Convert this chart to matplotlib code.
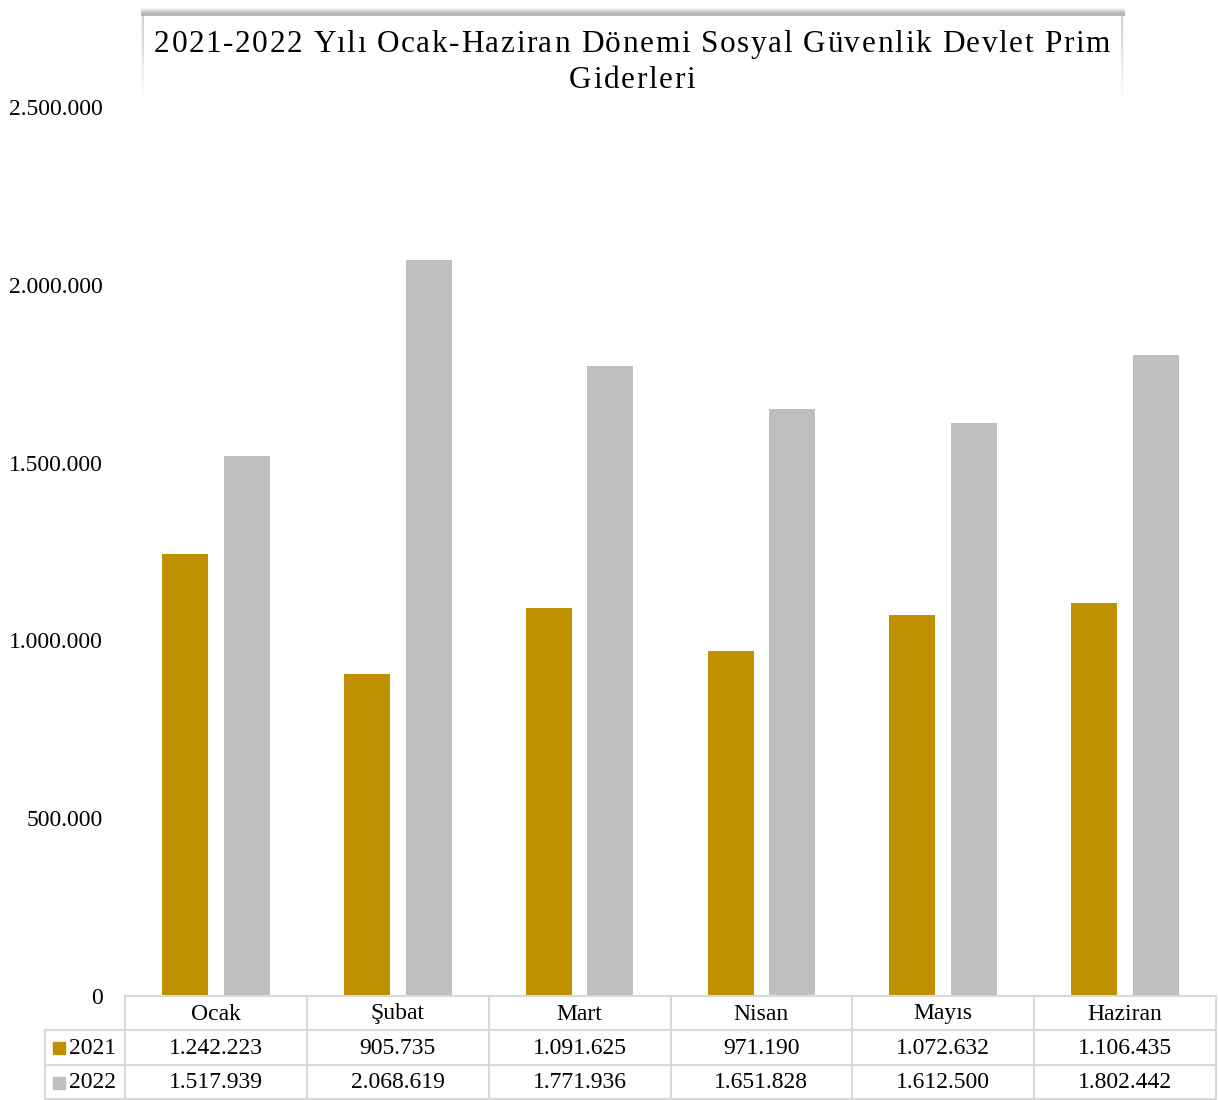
import matplotlib
matplotlib.use("Agg")
import matplotlib.pyplot as plt
from matplotlib.lines import Line2D
from matplotlib.patches import Rectangle
from matplotlib import transforms
from matplotlib.font_manager import FontProperties
import numpy as np

months = ["Ocak", "Şubat", "Mart", "Nisan", "Mayıs", "Haziran"]
series_names = ["2021", "2022"]
values_2021 = [1242223, 905735, 1091625, 971190, 1072632, 1106435]
values_2022 = [1517939, 2068619, 1771936, 1651828, 1612500, 1802442]
yticks = [0, 500000, 1000000, 1500000, 2000000, 2500000]
title_lines = ["2021-2022 Yılı Ocak-Haziran Dönemi Sosyal Güvenlik Devlet Prim", "Giderleri"]

colors = ["#BF9000", "#BFBFBF"]
grid_c = "#D9D9D9"

plt.rcParams['font.family'] = ['Liberation Serif', 'DejaVu Serif']

W, H = 1218, 1100
fig = plt.figure(figsize=(W / 100, H / 100), dpi=100)

def fy(ypx):
    return 1 - ypx / H

def fx(xpx):
    return xpx / W

ax = fig.add_axes([fx(125), fy(996), fx(1216) - fx(125), fy(107) - fy(996)])
x = np.arange(len(months)) + 0.5
bw = 0.253
off = 0.17
ax.bar(x - off, values_2021, bw, color=colors[0], zorder=2)
ax.bar(x + off, values_2022, bw, color=colors[1], zorder=2)
ax.set_xlim(0, len(months))
ax.set_ylim(0, 2500000)
ax.set_yticks(yticks)
ax.set_yticklabels([f"{v:,}".replace(",", ".") for v in yticks], fontsize=17)
ax.tick_params(axis='y', length=0, pad=16)
ax.tick_params(axis='x', length=0, labelbottom=False)
for s in ax.spines.values():
    s.set_visible(False)

# data table
tr = transforms.blended_transform_factory(ax.transData, fig.transFigure)
rows_y = [996, 1030, 1065, 1099]
fig.add_artist(Line2D([0, len(months)], [fy(996)] * 2, transform=tr, color=grid_c, lw=1.5))
for yy in rows_y[1:]:
    fig.add_artist(Line2D([fx(45), fx(1216)], [fy(yy)] * 2, transform=fig.transFigure, color=grid_c, lw=1.5))
for i in range(len(months) + 1):
    fig.add_artist(Line2D([i, i], [fy(996), fy(1100)], transform=tr, color=grid_c, lw=1.5))
fig.add_artist(Line2D([fx(45), fx(45)], [fy(1030), fy(1100)], transform=fig.transFigure, color=grid_c, lw=1.5))

fs = 17
for i, m in enumerate(months):
    fig.text(x[i], fy(1014), m, transform=tr, ha='center', va='center', fontsize=fs)
    fig.text(x[i], fy(1048), f"{values_2021[i]:,}".replace(",", "."), transform=tr,
             ha='center', va='center', fontsize=fs)
    fig.text(x[i], fy(1083), f"{values_2022[i]:,}".replace(",", "."), transform=tr,
             ha='center', va='center', fontsize=fs)

for j, (name, c) in enumerate(zip(series_names, colors)):
    yc = 1048 if j == 0 else 1083
    fig.add_artist(Rectangle((fx(53), fy(yc + 6)), fx(12), fy(0) - fy(12),
                             transform=fig.transFigure, color=c))
    fig.text(fx(69), fy(yc), name, ha='left', va='center', fontsize=fs)

# title box with shadow
shades = [(8, 0.08), (9, 0.15), (10, 0.25), (11, 0.35), (12, 0.42), (13, 0.48), (14, 0.5), (15, 0.45)]
for yy, a in shades:
    fig.add_artist(Rectangle((fx(141), fy(yy + 1)), fx(984), fy(yy) - fy(yy + 1),
                             transform=fig.transFigure, color="#6a6a6a", alpha=a, lw=0))
# side shadows (fading downward)
for seg in range(8):
    y0 = 16 + seg * 10
    a = 0.35 * (1 - seg / 8)
    for xx, f in [(141, 0.4), (142, 0.7), (143, 1.0), (1121, 1.0), (1122, 0.7), (1123, 0.4)]:
        fig.add_artist(Rectangle((fx(xx), fy(y0 + 10)), fx(1), fy(y0) - fy(y0 + 10),
                                 transform=fig.transFigure, color="#707070", alpha=a * f, lw=0))
fig.add_artist(Rectangle((fx(144), fy(95)), fx(977), fy(16) - fy(95),
                         transform=fig.transFigure, color="white", lw=0))

# letter-spaced title
tfs = 22.5
tracking = 1.6  # px per char
prop = FontProperties(family='Liberation Serif', size=tfs)
renderer = fig.canvas.get_renderer()

def width_px(s):
    if not s:
        return 0.0
    w, h, d = renderer.get_text_width_height_descent(s, prop, ismath=False)
    return w

center_x = 632
for line, base_y in zip(title_lines, [52, 88]):
    total = width_px(line) + tracking * (len(line) - 1)
    x0 = center_x - total / 2
    for k, ch in enumerate(line):
        if ch == " ":
            continue
        xp = x0 + width_px(line[:k]) + tracking * k
        fig.text(fx(xp), fy(base_y), ch, ha='left', va='baseline', fontproperties=prop)

fig.savefig("out.png", dpi=100)
